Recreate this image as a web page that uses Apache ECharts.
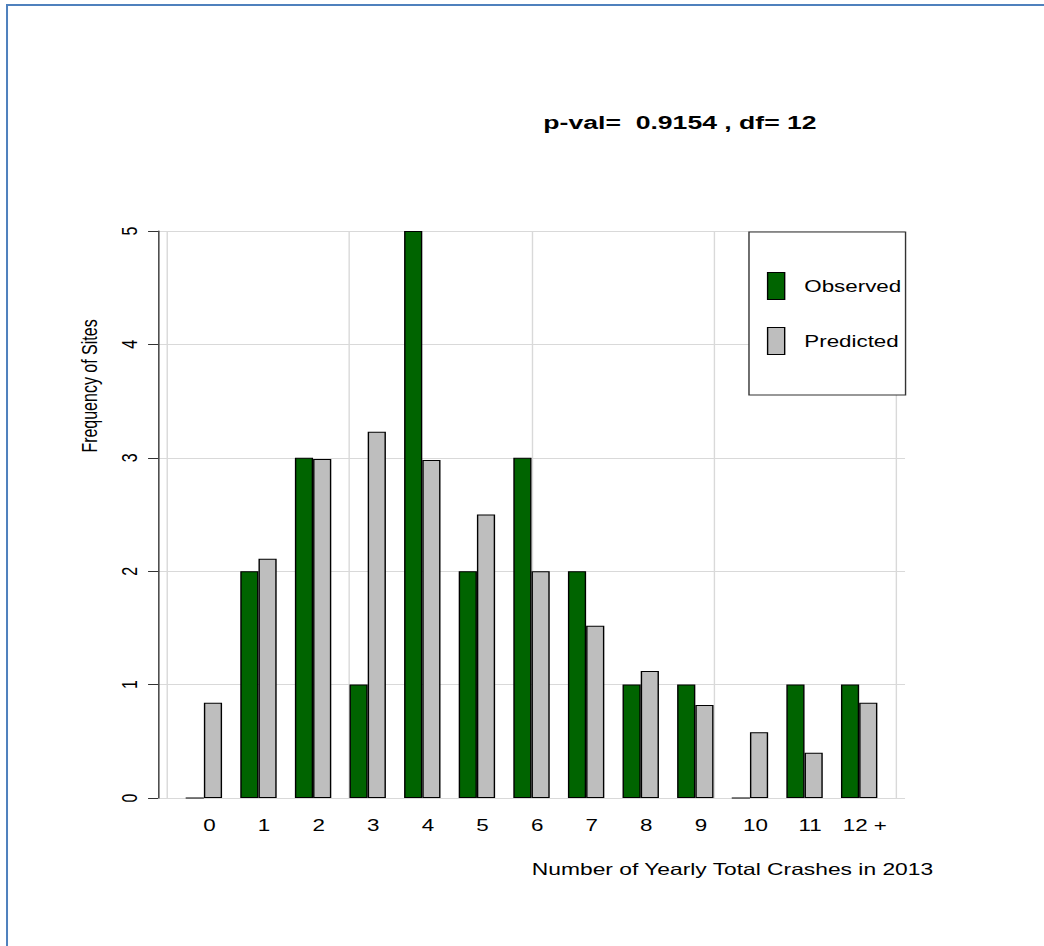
<!DOCTYPE html>
<html>
<head>
<meta charset="utf-8">
<script src="https://cdn.jsdelivr.net/npm/echarts@6/dist/echarts.min.js"></script>
<style>
  html, body { margin: 0; padding: 0; background: #fff; overflow: hidden; }
  #c { width: 746px; height: 946px; transform: scaleX(1.39946); transform-origin: 0 0; }
</style>
</head>
<body>
<div id="c"></div>
<script>
// ---- data ----
const categories = ['0', '1', '2', '3', '4', '5', '6', '7', '8', '9', '10', '11', '12 +'];
const observed = [0, 2, 3, 1, 5, 2, 3, 2, 1, 1, 0, 1, 1];
const predicted = [0.84, 2.11, 2.99, 3.23, 2.98, 2.50, 2.00, 1.52, 1.12, 0.82, 0.58, 0.40, 0.84];
const yTicks = [0, 1, 2, 3, 4, 5];
const titleText = 'p-val=  0.9154 , df= 12';
const xTitle = 'Number of Yearly Total Crashes in 2013';
const yTitle = 'Frequency of Sites';

// ---- layout (unscaled coordinates; page is stretched horizontally) ----
const FONT = "'Liberation Sans', Arial, sans-serif";
const plotLeft = 112.9, plotWidth = 533.8, plotTop = 231, plotHeight = 567;
const unitsMin = -0.52, unitsMax = 40.52;
const pxPerUnit = plotWidth / (unitsMax - unitsMin);
const barsLeft = plotLeft + (0.5 - unitsMin) * pxPerUnit;
const barsWidth = 39 * pxPerUnit;
const vLeft = plotLeft + (0 - unitsMin) * pxPerUnit;
const vWidth = 40 * pxPerUnit;

const chart = echarts.init(document.getElementById('c'), null, { renderer: 'svg', width: 746, height: 946 });

const option = {
  backgroundColor: '#fff',
  animation: false,
  textStyle: { fontFamily: FONT },
  grid: [
    { left: barsLeft, top: plotTop, width: barsWidth, height: plotHeight },
    { left: plotLeft, top: plotTop, width: plotWidth, height: plotHeight },
    { left: vLeft, top: plotTop, width: vWidth, height: plotHeight }
  ],
  xAxis: [
    {
      gridIndex: 0, type: 'category', data: categories,
      axisLine: { show: false }, axisTick: { show: false }, splitLine: { show: false },
      axisLabel: { interval: 0, fontSize: 16, color: '#000', fontFamily: FONT, margin: 19, padding: [0, 0, 0, 8] }
    },
    { gridIndex: 1, type: 'value', min: 0, max: 1, show: false },
    {
      gridIndex: 2, type: 'value', min: 0, max: 40, interval: 10,
      axisLine: { show: false }, axisTick: { show: false }, axisLabel: { show: false },
      splitLine: { show: true, lineStyle: { color: '#d9d9d9', width: 1 } }
    }
  ],
  yAxis: [
    { gridIndex: 0, type: 'value', min: 0, max: 5, show: false },
    {
      gridIndex: 1, type: 'value', min: 0, max: 5, interval: 1,
      axisLine: { show: true, lineStyle: { color: '#333', width: 1 } },
      axisTick: { show: true, length: 7.1, lineStyle: { color: '#333', width: 1 } },
      axisLabel: {
        rotate: 90, fontSize: 16, color: '#000', fontFamily: FONT, margin: 13,
        customValues: yTicks
      },
      splitLine: { show: true, lineStyle: { color: '#d9d9d9', width: 1 } }
    },
    { gridIndex: 2, type: 'value', min: 0, max: 5, show: false }
  ],
  legend: {
    show: true,
    orient: 'vertical',
    left: 535.2, top: 232,
    padding: [40, 3, 40, 12.8],
    itemWidth: 12.2, itemHeight: 27, itemGap: 27,
    icon: 'rect',
    selectedMode: false,
    backgroundColor: '#fff',
    borderColor: '#333', borderWidth: 1, borderRadius: 0,
    itemStyle: { borderColor: '#000', borderWidth: 1 },
    textStyle: { fontSize: 16, color: '#000', fontFamily: FONT, padding: [0, 0, 0, 9] },
    data: ['Observed', 'Predicted']
  },
  series: [
    {
      name: 'Observed', type: 'bar', xAxisIndex: 0, yAxisIndex: 0,
      data: observed, barWidth: pxPerUnit, barGap: '0%',
      itemStyle: { color: '#006400', borderColor: '#000', borderWidth: 1 }
    },
    {
      name: 'Predicted', type: 'bar', xAxisIndex: 0, yAxisIndex: 0,
      data: predicted, barWidth: pxPerUnit, barGap: '0%',
      itemStyle: { color: '#bebebe', borderColor: '#000', borderWidth: 1 }
    }
  ],
  graphic: [
    { type: 'rect', shape: { x: 4.3, y: 4, width: 746, height: 2 }, style: { fill: '#4f81bd' }, silent: true },
    { type: 'rect', shape: { x: 4.3, y: 4, width: 1.43, height: 950 }, style: { fill: '#4f81bd' }, silent: true },
    {
      type: 'text', x: 485.9, y: 122,
      style: { text: titleText, font: "bold 19px " + FONT, fill: '#000', textAlign: 'center', textVerticalAlign: 'middle' }
    },
    {
      type: 'text', x: 523.4, y: 869,
      style: { text: xTitle, font: "16.3px " + FONT, fill: '#000', textAlign: 'center', textVerticalAlign: 'middle' }
    },
    {
      type: 'text', x: 63.6, y: 386, rotation: Math.PI / 2,
      style: { text: yTitle, font: "16px " + FONT, fill: '#000', textAlign: 'center', textVerticalAlign: 'middle' }
    }
  ]
};
chart.setOption(option);
</script>
</body>
</html>
